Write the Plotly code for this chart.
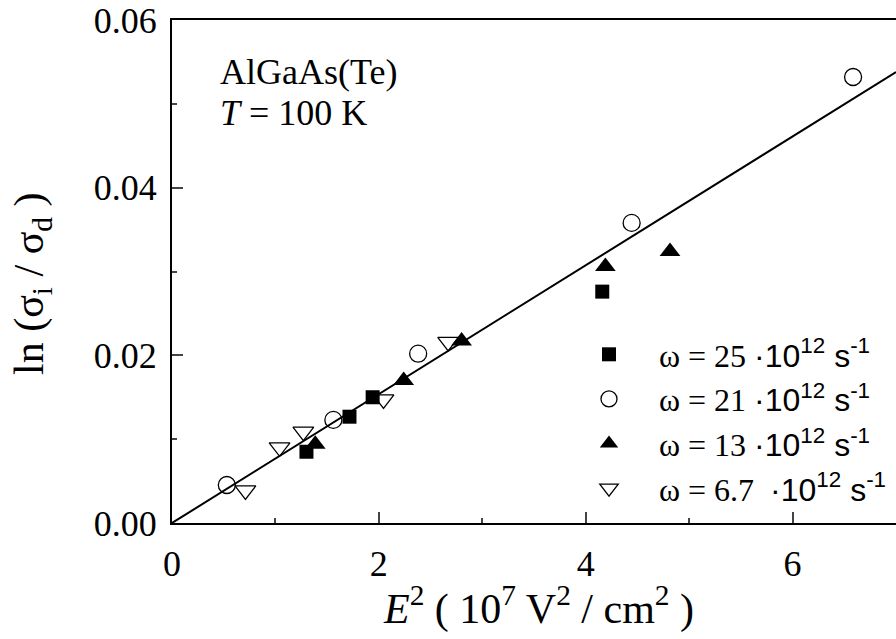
import plotly.graph_objects as go

# ---- data ----
sq_x = [1.30, 1.716, 1.94, 4.16]
sq_y = [0.0085, 0.01268, 0.0150, 0.0276]

ci_x = [0.53, 1.56, 2.38, 4.444, 6.585]
ci_y = [0.00453, 0.0123, 0.0202, 0.0358, 0.0532]

tu_x = [1.385, 2.24, 2.80, 4.19, 4.815]
tu_y = [0.0094, 0.0170, 0.0217, 0.0306, 0.0324]

td_x = [0.71, 1.04, 1.27, 2.045, 2.67]
td_y = [0.0039, 0.00903, 0.0109, 0.01475, 0.0216]

fit_x = [0.0, 7.0]
fit_y = [0.0, 0.0538]

x_ticks = [0, 2, 4, 6]
y_ticks = [0.00, 0.02, 0.04, 0.06]

SERIF = "Liberation Serif"
SANS = "Liberation Sans"

def lab(num):
    return ("ω = " + num + "<span style='font-family:" + SANS + "'>·10<sup>12</sup> s<sup>-1</sup></span>")

fig = go.Figure()
fig.add_trace(go.Scatter(x=fit_x, y=fit_y, mode="lines", line=dict(color="black", width=2),
                         showlegend=False, hoverinfo="skip"))
fig.add_trace(go.Scatter(x=sq_x, y=sq_y, mode="markers", name=lab("25 "), legendgroup="a",
                         marker=dict(symbol="square", size=14, color="black")))
fig.add_trace(go.Scatter(x=ci_x, y=ci_y, mode="markers", name=lab("21 "), legendgroup="b",
                         marker=dict(symbol="circle-open", size=17, color="black", line=dict(width=1.3))))
fig.add_trace(go.Scatter(x=tu_x, y=tu_y, mode="markers", name=lab("13 "), legendgroup="c",
                         marker=dict(symbol="triangle-up", size=18, color="black")))
fig.add_trace(go.Scatter(x=td_x, y=td_y, mode="markers", name=lab("6.7\u00a0\u00a0"), legendgroup="d",
                         marker=dict(symbol="triangle-down-open", size=18, color="black", line=dict(width=1.3))))

W, H = 896, 639
L, R, T, B = 172, 0, 20, 116
pw, ph = W - L - R, H - T - B

def px_x(p):
    return (p - L) / pw

def px_y(p):
    return (H - B - p) / ph

fig.update_layout(
    width=W, height=H,
    margin=dict(l=L, r=R, t=T, b=B),
    paper_bgcolor="white", plot_bgcolor="white",
    font=dict(family=SERIF, color="black", size=28),
    showlegend=True,
    legend=dict(x=px_x(559), y=px_y(327), xanchor="left", yanchor="top",
                bgcolor="rgba(0,0,0,0)", font=dict(family=SERIF, size=32),
                tracegroupgap=0, itemwidth=90),
    xaxis=dict(range=[0, 7.0], tickvals=x_ticks, ticks="inside", ticklen=11, tickwidth=1.5,
               showline=True, linewidth=2, linecolor="black", mirror=True, showgrid=False,
               zeroline=False, ticklabelstandoff=8,
               tickfont=dict(family=SERIF, size=36),
               minor=dict(dtick=1, ticks="inside", ticklen=5, tickwidth=1.5, showgrid=False)),
    yaxis=dict(range=[0, 0.06], tickvals=y_ticks, tickformat=".2f", ticks="inside", ticklen=11,
               tickwidth=1.5, showline=True, linewidth=2, linecolor="black", showgrid=False,
               zeroline=False, ticklabelstandoff=6,
               tickfont=dict(family=SERIF, size=36),
               minor=dict(dtick=0.01, ticks="inside", ticklen=5, tickwidth=1.5, showgrid=False)),
)

fig.add_annotation(text="AlGaAs(Te)", x=px_x(218), y=px_y(72), xref="paper", yref="paper",
                   xanchor="left", yanchor="middle", showarrow=False,
                   font=dict(family=SERIF, size=36))
fig.add_annotation(text="<i>T</i> = 100 K", x=px_x(218), y=px_y(113), xref="paper", yref="paper",
                   xanchor="left", yanchor="middle", showarrow=False,
                   font=dict(family=SERIF, size=36))
fig.add_annotation(text="<i>E</i><sup>2</sup> ( 10<sup>7</sup> V<sup>2</sup> / cm<sup>2</sup> )",
                   x=px_x(538), y=px_y(606), xref="paper", yref="paper",
                   xanchor="center", yanchor="middle", showarrow=False,
                   font=dict(family=SERIF, size=42))
fig.add_annotation(text="ln (σ<sub>i</sub> / σ<sub>d</sub> )",
                   x=px_x(32), y=px_y(284), xref="paper", yref="paper",
                   xanchor="center", yanchor="middle", showarrow=False, textangle=-90,
                   font=dict(family=SERIF, size=42))

fig.write_html("out.html")
